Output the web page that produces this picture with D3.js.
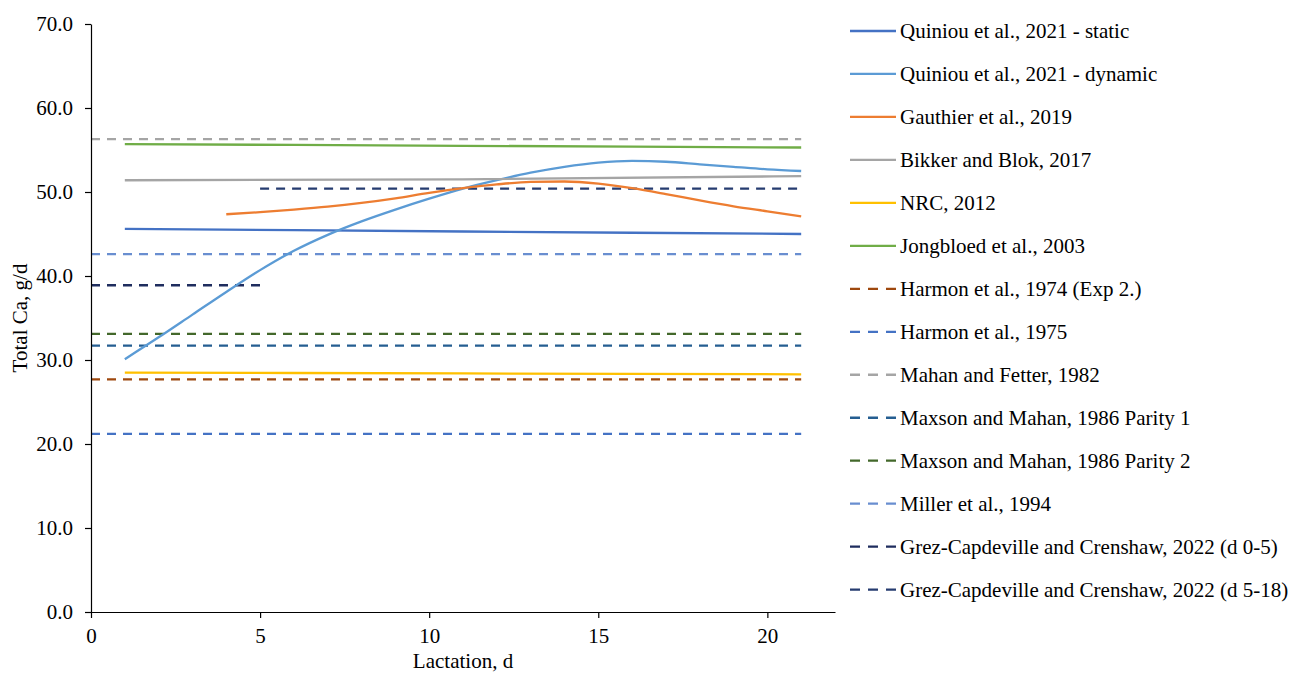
<!DOCTYPE html>
<html>
<head>
<meta charset="utf-8">
<script src="https://cdn.jsdelivr.net/npm/d3@7"></script>
<style>
  body { margin: 0; background: #fff; }
  svg text { font-family: "Liberation Serif", "Times New Roman", Times, "DejaVu Serif", serif; fill: #000; }
</style>
</head>
<body>
<div id="chart"></div>
<script>
const width = 1291;
const height = 674;
const margin = { left: 91, right: 456, top: 24, bottom: 62 };
const fontFamily = "'Liberation Serif', 'Times New Roman', Times, serif";

// model curves
const dynamicDays = [1, 2, 3, 4, 5, 6, 7, 8, 9, 10, 11, 12, 13, 14, 15, 16, 17, 18, 19, 20, 21];
const dynamicValues = [30.1, 32.7, 35.4, 38.1, 40.7, 43.0, 44.9, 46.5, 47.9, 49.2, 50.4, 51.4, 52.3, 53.0, 53.5, 53.7, 53.6, 53.3, 53.0, 52.7, 52.5];

const gauthierDays = [4, 5, 6, 7, 8, 9, 10, 11, 12, 13, 14, 15, 16, 17, 18, 19, 20, 21];
const gauthierValues = [47.35, 47.6, 47.9, 48.25, 48.7, 49.25, 49.9, 50.45, 50.9, 51.2, 51.25, 51.0, 50.45, 49.75, 49.0, 48.3, 47.7, 47.1];

const flatDays = [1, 11, 21];
const staticValues = [45.6, 45.3, 45.0];
const bikkerValues = [51.4, 51.5, 51.9];
const nrcValues = [28.5, 28.4, 28.3];
const jongbloedValues = [55.7, 55.5, 55.3];

// constant reference levels: [from day, to day]
const harmon74 = { days: [0, 21], value: 27.7 };
const harmon75 = { days: [0, 21], value: 21.2 };
const mahan82 = { days: [0, 21], value: 56.3 };
const maxson1 = { days: [0, 21], value: 31.7 };
const maxson2 = { days: [0, 21], value: 33.1 };
const miller94 = { days: [0, 21], value: 42.6 };
const grezEarly = { days: [0, 5], value: 38.9 };
const grezLate = { days: [5, 21], value: 50.4 };

const yTicks = [0, 10, 20, 30, 40, 50, 60, 70];
const xTicks = [0, 5, 10, 15, 20];

const series = [
  { name: "Quiniou et al., 2021 - static", color: "#4472c4", dash: false, days: flatDays, values: staticValues },
  { name: "Quiniou et al., 2021 - dynamic", color: "#5b9bd5", dash: false, days: dynamicDays, values: dynamicValues },
  { name: "Gauthier et al., 2019", color: "#ed7d31", dash: false, days: gauthierDays, values: gauthierValues },
  { name: "Bikker and Blok, 2017", color: "#a5a5a5", dash: false, days: flatDays, values: bikkerValues },
  { name: "NRC, 2012", color: "#ffc000", dash: false, days: flatDays, values: nrcValues },
  { name: "Jongbloed et al., 2003", color: "#70ad47", dash: false, days: flatDays, values: jongbloedValues },
  { name: "Harmon et al., 1974 (Exp 2.)", color: "#9e480e", dash: true, ref: harmon74 },
  { name: "Harmon et al., 1975", color: "#4472c4", dash: true, ref: harmon75 },
  { name: "Mahan and Fetter, 1982", color: "#a5a5a5", dash: true, ref: mahan82 },
  { name: "Maxson and Mahan, 1986 Parity 1", color: "#255e91", dash: true, ref: maxson1 },
  { name: "Maxson and Mahan, 1986 Parity 2", color: "#43682b", dash: true, ref: maxson2 },
  { name: "Miller et al., 1994", color: "#698ed0", dash: true, ref: miller94 },
  { name: "Grez-Capdeville and Crenshaw, 2022 (d 0-5)", color: "#1f2d5e", dash: true, ref: grezEarly },
  { name: "Grez-Capdeville and Crenshaw, 2022 (d 5-18)", color: "#263c70", dash: true, ref: grezLate },
];

const x = d3.scaleLinear().domain([0, 22]).range([margin.left, width - margin.right]);
const y = d3.scaleLinear().domain([0, 70]).range([height - margin.bottom, margin.top]);

const svg = d3.select("#chart").append("svg").attr("width", width).attr("height", height);

const line = d3.line()
  .x((d) => x(d[0]))
  .y((d) => y(d[1]))
  .curve(d3.curveMonotoneX);

const points = (s) =>
  s.ref ? s.ref.days.map((d) => [d, s.ref.value]) : s.days.map((d, i) => [d, s.values[i]]);

// draw dashed references first, then solid curves on top
const drawOrder = [...series.filter((s) => s.dash), ...series.filter((s) => !s.dash)];

svg.append("g")
  .selectAll("path")
  .data(drawOrder)
  .join("path")
  .attr("d", (s) => line(points(s)))
  .attr("fill", "none")
  .attr("stroke", (s) => s.color)
  .attr("stroke-width", 2.3)
  .attr("stroke-dasharray", (s) => (s.dash ? "9,7" : null));

// axes
const yAxis = svg.append("g")
  .attr("transform", `translate(${margin.left},0)`)
  .call(d3.axisLeft(y).tickValues(yTicks).tickFormat(d3.format(".1f")).tickSize(6).tickSizeOuter(0));

const xAxis = svg.append("g")
  .attr("transform", `translate(0,${height - margin.bottom})`)
  .call(d3.axisBottom(x).tickValues(xTicks).tickSize(6).tickSizeOuter(0));

[yAxis, xAxis].forEach((g) => {
  g.attr("font-family", fontFamily).attr("font-size", 21);
  g.select(".domain").attr("stroke", "#000").attr("stroke-width", 1.2);
  g.selectAll(".tick line").attr("stroke", "#000").attr("stroke-width", 1.2);
});
yAxis.selectAll(".tick text").attr("x", -18);
xAxis.selectAll(".tick text").attr("y", 16);

svg.append("text")
  .attr("transform", `translate(27,${(margin.top + height - margin.bottom) / 2}) rotate(-90)`)
  .attr("text-anchor", "middle")
  .attr("font-family", fontFamily)
  .attr("font-size", 21)
  .text("Total Ca, g/d");

svg.append("text")
  .attr("x", (margin.left + width - margin.right) / 2)
  .attr("y", 668)
  .attr("text-anchor", "middle")
  .attr("font-family", fontFamily)
  .attr("font-size", 21)
  .text("Lactation, d");

// legend
const legend = svg.append("g").attr("transform", "translate(850,31)");
const rows = legend.selectAll("g")
  .data(series)
  .join("g")
  .attr("transform", (d, i) => `translate(0,${i * 42.97})`);

rows.append("line")
  .attr("x1", 0)
  .attr("x2", 46)
  .attr("stroke", (d) => d.color)
  .attr("stroke-width", 2.3)
  .attr("stroke-dasharray", (d) => (d.dash ? "10,8" : null));

rows.append("text")
  .attr("x", 50)
  .attr("dy", "0.33em")
  .attr("font-family", fontFamily)
  .attr("font-size", 21)
  .text((d) => d.name);
</script>
</body>
</html>
